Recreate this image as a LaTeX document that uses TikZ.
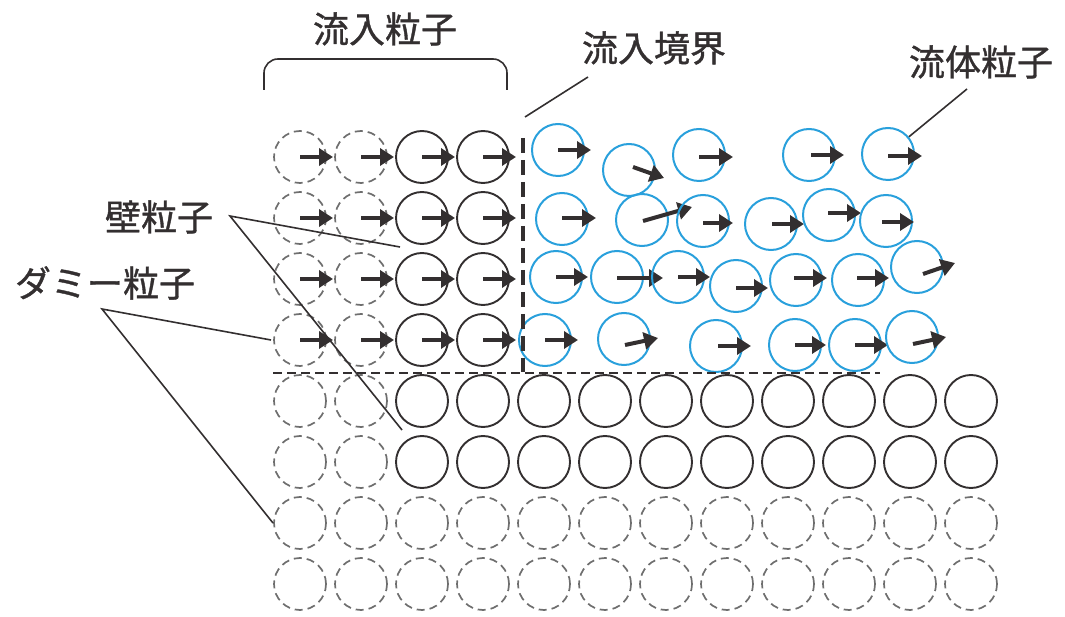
\documentclass[tikz,border=0pt]{standalone}
\usepackage{fontspec}
\newfontfamily\jp[FakeBold=1]{Noto Sans CJK JP}
\usetikzlibrary{arrows.meta}
\definecolor{fluid}{RGB}{41,160,220}
\definecolor{ink}{RGB}{51,47,48}
\definecolor{dgray}{RGB}{110,110,110}
\tikzset{
  solidp/.style={circle, draw=ink, line width=1.9pt, minimum size=52pt, inner sep=0pt},
  dashp/.style={circle, draw=dgray, line width=1.7pt, dash pattern=on 8pt off 5pt, minimum size=52pt, inner sep=0pt},
  fluidp/.style={circle, draw=fluid, line width=2pt, minimum size=52pt, inner sep=0pt},
  vel/.style={draw=ink, line width=4pt, -{Triangle[length=14pt,width=17pt]}},
  leader/.style={draw=ink, line width=1.6pt},
  lab/.style={font=\jp\fontsize{36}{40}\selectfont, text=ink, inner sep=0pt},
}
\newcommand\velarrow[5]{\draw[vel] ([shift={(#2,#3)}]#1.center) -- ++(#4,#5);}
\begin{document}
\begin{tikzpicture}[x=1pt,y=-1pt]
\useasboundingbox (0,0) rectangle (1065,617);
% inflow particles (rows 1-4)
\foreach \j [evaluate=\j as \y using 157+61*(\j-1)] in {1,...,4}{
  \foreach \i [evaluate=\i as \x using 300+61*(\i-1)] in {1,2}{
    \node[dashp] (g-\j-\i) at (\x,\y) {};
  }
  \foreach \i [evaluate=\i as \x using 300+61*(\i-1)] in {3,4}{
    \node[solidp] (g-\j-\i) at (\x,\y) {};
  }
  \foreach \i in {1,...,4}{
    \draw[vel] (g-\j-\i.center) -- ++(33,0);
  }
}
% wall particles (rows 5-6)
\foreach \j [evaluate=\j as \y using 157+61*(\j-1)] in {5,6}{
  \foreach \i [evaluate=\i as \x using 300+61*(\i-1)] in {1,2}{
    \node[dashp] (g-\j-\i) at (\x,\y) {};
  }
  \foreach \i [evaluate=\i as \x using 300+61*(\i-1)] in {3,...,12}{
    \node[solidp] (g-\j-\i) at (\x,\y) {};
  }
}
% dummy particles (rows 7-8)
\foreach \j [evaluate=\j as \y using 157+61*(\j-1)] in {7,8}{
  \foreach \i [evaluate=\i as \x using 300+61*(\i-1)] in {1,...,12}{
    \node[dashp] (g-\j-\i) at (\x,\y) {};
  }
}
% fluid particles
\foreach \n/\cx/\cy/\sx/\sy/\dx/\dy in {
  f1/558/150/0/0/33/0, f2/629/170/4/-3/31/11, f3/699/155/0/2/34/0,
  f4/809/155/2/0/33/0, f5/888/154/0/2/34/0,
  f6/562/219/0/-1/34/0, f7/642/220/1/1/49/-14, f8/703/221/0/2/30/0,
  f9/771/224/1/0/32/0, f10/829/215/-1/-2/33/0, f11/886/221/-4/1/32/0,
  f12/556/277/0/0/32/0, f13/617/277/0/1/46/0, f14/678/277/0/0/32/0,
  f15/736/286/0/2/32/0, f16/796/280/-2/-2/33/0, f17/858/280/-1/-2/32/0,
  f18/917/267/6/7/32/-11,
  f19/545/340/0/0/33/0, f20/624/339/1/6/33/-7, f21/716/346/2/0/33/0,
  f22/795/345/0/0/31/0, f23/855/345/0/0/33/0, f24/912/337/1/7/33/-7}{
  \node[fluidp] (\n) at (\cx,\cy) {};
  \velarrow{\n}{\sx}{\sy}{\dx}{\dy}
}
% boundaries
\draw[ink, line width=3.5pt, dash pattern=on 15pt off 7pt] (523,138) -- (523,372);
\draw[ink, line width=2pt, dash pattern=on 9pt off 5pt] (273,373) -- (880,373);
% labels
\node[lab] (lInflow) at (385,29) {流入粒子};
\node[lab] (lBound) at (654,48) {流入境界};
\node[lab] (lFluid) at (981,62) {流体粒子};
\node[lab] (lWall) at (159,217) {壁粒子};
\node[lab] (lDummy) at (105,283) {ダミー粒子};
% leader lines
\coordinate (bL) at (264,90);
\coordinate (bR) at (507,90);
\draw[leader, rounded corners=14pt] (bL) -- (264,59) -- (507,59) -- (bR);
\coordinate (bndA) at (588,77);
\coordinate (bndB) at (525,117);
\draw[leader] (bndA) -- (bndB);
\coordinate (flA) at (967,89);
\draw[leader] (flA) -- (f5);
\coordinate (wA) at (230,216);
\coordinate (wB) at (400,247);
\coordinate (wC) at (402,430);
\draw[leader] (wB) -- (wA) -- (wC);
\coordinate (dA) at (102,309);
\coordinate (dB) at (271,340);
\coordinate (dC) at (273,523);
\draw[leader] (dB) -- (dA) -- (dC);
\end{tikzpicture}
\end{document}
